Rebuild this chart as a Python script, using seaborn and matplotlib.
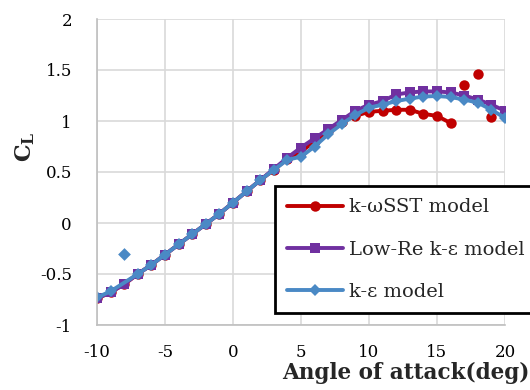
import numpy as np
import pandas as pd
import matplotlib
matplotlib.use("Agg")
import matplotlib.pyplot as plt
import seaborn as sns

# ---- data ----
aoa = list(range(-10, 21))

# k-omega SST (connected part, -10..16) and isolated points
sst_x = list(range(-10, 17))
sst_y = [-0.74, -0.68, -0.60, -0.50, -0.41, -0.31, -0.21, -0.11, -0.01, 0.09,
         0.20, 0.31, 0.42, 0.52, 0.63, 0.70, 0.80, 0.90, 0.99, 1.05,
         1.09, 1.10, 1.11, 1.11, 1.07, 1.05, 0.98]
sst_iso_x = [17, 18, 19]
sst_iso_y = [1.35, 1.46, 1.04]

# Low-Re k-epsilon
lowre_y = [-0.74, -0.68, -0.60, -0.50, -0.41, -0.31, -0.21, -0.11, -0.01, 0.09,
           0.20, 0.31, 0.42, 0.53, 0.64, 0.74, 0.83, 0.92, 1.01, 1.10,
           1.16, 1.195, 1.26, 1.28, 1.29, 1.29, 1.28, 1.25, 1.21, 1.16, 1.10]

# k-epsilon (connected part skips -8) and isolated point
ke_x = [-10, -9] + list(range(-7, 21))
ke_y = [-0.73, -0.67, -0.50, -0.41, -0.31, -0.21, -0.11, -0.01, 0.09,
        0.20, 0.31, 0.42, 0.52, 0.62, 0.65, 0.75, 0.87, 0.97, 1.06,
        1.13, 1.16, 1.195, 1.22, 1.24, 1.245, 1.235, 1.21, 1.18, 1.11, 1.03]
ke_iso_x = [-8]
ke_iso_y = [-0.30]

labels = ["k-\u03c9SST model", "Low-Re k-\u03b5 model", "k-\u03b5 model"]
colors = ["#C00000", "#7030A0", "#4A89C5"]
x_ticks = [-10, -5, 0, 5, 10, 15, 20]
y_ticks = [-1, -0.5, 0, 0.5, 1, 1.5, 2]
y_ticklabels = ["-1", "-0.5", "0", "0.5", "1", "1.5", "2"]

# ---- plot ----
sns.set_theme(style="whitegrid")
plt.rcParams["font.family"] = ["DejaVu Serif"]
plt.rcParams["mathtext.fontset"] = "dejavuserif"

fig = plt.figure(figsize=(5.3, 3.9), dpi=100)
ax = fig.add_axes([97/530, 1-325/390, (505-97)/530, (325-19)/390])

lw = 2.8
ms = 7.5
sns.lineplot(x=sst_x, y=sst_y, ax=ax, color=colors[0], marker="o", markersize=ms,
             markeredgewidth=0, linewidth=lw, label=labels[0])
sns.lineplot(x=aoa, y=lowre_y, ax=ax, color=colors[1], marker="s", markersize=ms,
             markeredgewidth=0, linewidth=lw, label=labels[1])
sns.lineplot(x=ke_x, y=ke_y, ax=ax, color=colors[2], marker="D", markersize=ms-1,
             markeredgewidth=0, linewidth=lw, label=labels[2])
sns.scatterplot(x=sst_iso_x, y=sst_iso_y, ax=ax, color=colors[0], marker="o",
                s=ms**2, linewidth=0)
sns.scatterplot(x=ke_iso_x, y=ke_iso_y, ax=ax, color=colors[2], marker="D",
                s=(ms-1)**2, linewidth=0)

ax.set_xlim(-10, 20)
ax.set_ylim(-1, 2)
ax.set_xticks(x_ticks)
ax.set_xticklabels([str(t) for t in x_ticks])
ax.set_yticks(y_ticks)
ax.set_yticklabels(y_ticklabels)
ax.grid(True, color="#d9d9d9", linewidth=1.2)
ax.set_axisbelow(True)
for s in ["top", "right"]:
    ax.spines[s].set_visible(False)
for s in ["left", "bottom"]:
    ax.spines[s].set_color("#bfbfbf")
    ax.spines[s].set_linewidth(1.2)
ax.tick_params(axis="both", labelsize=12, length=0, colors="black")
ax.tick_params(axis="x", pad=14)
ax.tick_params(axis="y", pad=18)

ax.set_xlabel("")
ax.set_ylabel("")
fig.text(25/530, 1-147/390, r"$\mathbf{C_L}$", rotation=90, ha="center", va="center",
         fontsize=16)
fig.text(529/530, 1-379/390, "Angle of attack(deg)", ha="right", va="baseline",
         fontsize=15.5, fontweight="bold")

leg = ax.legend(loc="lower left", bbox_to_anchor=(275/530, 1-313/390, 265/530, (313-187)/390),
                bbox_transform=fig.transFigure, mode="expand", frameon=True, fancybox=False,
                fontsize=14, handlelength=2.9, labelspacing=1.25, borderpad=0.62,
                handletextpad=0.3, borderaxespad=0)
leg.get_frame().set_edgecolor("black")
leg.get_frame().set_linewidth(2)
leg.get_frame().set_alpha(1)

fig.savefig("out.png", dpi=100)
